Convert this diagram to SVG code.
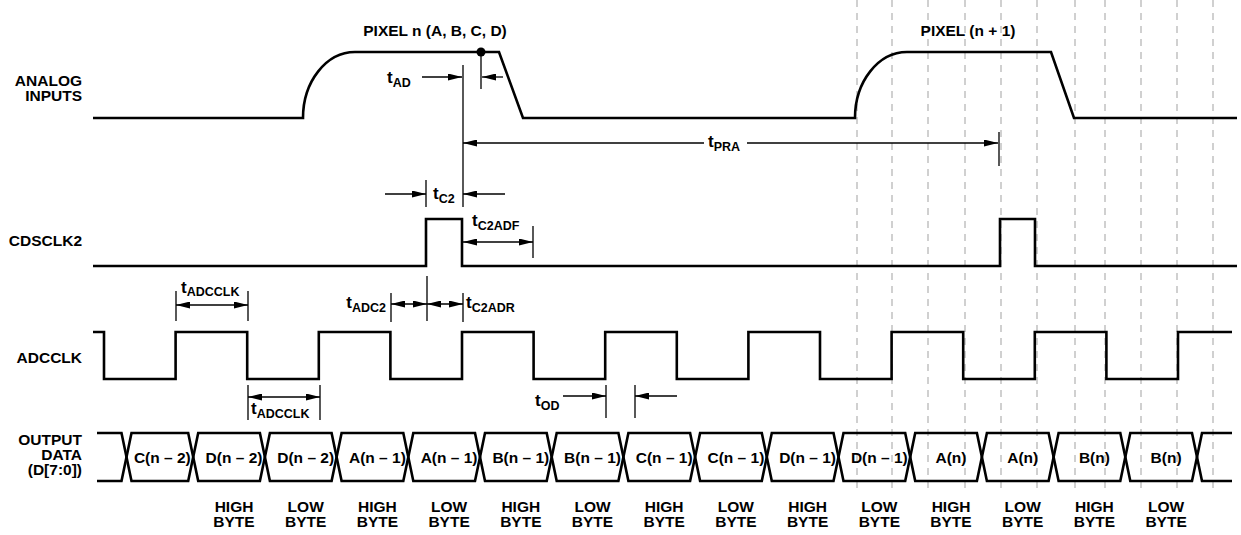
<svg xmlns="http://www.w3.org/2000/svg" width="1241" height="535" viewBox="0 0 1241 535">
<style>
text{font-family:"Liberation Sans",Arial,Helvetica,sans-serif;font-weight:bold;font-size:15.5px;fill:#000}
.t{font-size:17px}
.s{font-size:12.5px}
.e{text-anchor:end}
.m{text-anchor:middle}
.w{fill:none;stroke:#000;stroke-width:2.6;stroke-linejoin:miter}
.a{fill:none;stroke:#000;stroke-width:1.3}
.d{fill:none;stroke:#aaa;stroke-width:1.1;stroke-dasharray:7 6}
.ar{marker-end:url(#ah)}
.ab{marker-start:url(#ah);marker-end:url(#ah)}
.as{marker-start:url(#ah)}
</style>
<defs>
<marker id="ah" viewBox="0 0 14 7" refX="14" refY="3.5" markerWidth="14" markerHeight="7" markerUnits="userSpaceOnUse" orient="auto-start-reverse"><path d="M0,0 L14,3.5 L0,7 z" fill="#000"/></marker>
</defs>
<rect width="1241" height="535" fill="#fff"/>
<g id="grid">
<path class="d" d="M857,0V490M892,0V490M928,0V490M965,0V490M1001,0V490M1037,0V490M1075,0V490M1105,0V490M1141,0V490M1177,0V490M1213,0V490"/>
</g>
<g id="labels">
<text class="e" x="82" y="86">ANALOG</text>
<text class="e" x="82" y="101">INPUTS</text>
<text class="e" x="82" y="246">CDSCLK2</text>
<text class="e" x="82" y="363">ADCCLK</text>
<text class="e" x="82" y="445">OUTPUT</text>
<text class="e" x="82" y="460">DATA</text>
<text class="e" x="82" y="475">(D[7:0])</text>
<text class="m" x="435" y="36">PIXEL n (A, B, C, D)</text>
<text class="m" x="968" y="36">PIXEL (n + 1)</text>
</g>
<g id="analog">
<path class="w" d="M93,118H303A52,66 0 0 1 355,52H499L523,118H855A52,66 0 0 1 907,52H1051L1074,118H1237"/>
<circle cx="481" cy="52" r="4.5" fill="#000"/>
</g>
<g id="cdsclk2">
<path class="w" d="M93,266H426V219H462V266H1000V219H1035V266H1237"/>
</g>
<g id="adcclk">
<path class="w" d="M93,332H104V379H175.6V332H247.2V379H318.8V332H390.4V379H462V332H533.6V379H605.2V332H676.8V379H748.4V332H820V379H891.6V332H963.2V379H1034.8V332H1106.4V379H1178V332H1232"/>
</g>
<g id="bus">
<path class="w" d="M97,433H121.5L131.5,481H188.2L198.2,433H259.9L269.9,481H331.6L341.6,433H403.3L413.3,481H475L485,433H546.7L556.7,481H618.4L628.4,433H690.1L700.1,481H761.8L771.8,433H833.5L843.5,481H905.2L915.2,433H976.9L986.9,481H1048.6L1058.6,433H1120.3L1130.3,481H1192L1202,433H1232"/>
<path class="w" d="M97,481H121.5L131.5,433H188.2L198.2,481H259.9L269.9,433H331.6L341.6,481H403.3L413.3,433H475L485,481H546.7L556.7,433H618.4L628.4,481H690.1L700.1,433H761.8L771.8,481H833.5L843.5,433H905.2L915.2,481H976.9L986.9,433H1048.6L1058.6,481H1120.3L1130.3,433H1192L1202,481H1232"/>
<text class="m" x="162.3" y="463">C(n – 2)</text>
<text class="m" x="234" y="463">D(n – 2)</text>
<text class="m" x="305.7" y="463">D(n – 2)</text>
<text class="m" x="377.4" y="463">A(n – 1)</text>
<text class="m" x="449.1" y="463">A(n – 1)</text>
<text class="m" x="520.8" y="463">B(n – 1)</text>
<text class="m" x="592.5" y="463">B(n – 1)</text>
<text class="m" x="664.2" y="463">C(n – 1)</text>
<text class="m" x="735.9" y="463">C(n – 1)</text>
<text class="m" x="807.6" y="463">D(n – 1)</text>
<text class="m" x="879.3" y="463">D(n – 1)</text>
<text class="m" x="951" y="463">A(n)</text>
<text class="m" x="1022.7" y="463">A(n)</text>
<text class="m" x="1094.4" y="463">B(n)</text>
<text class="m" x="1166.1" y="463">B(n)</text>
</g>
<g id="bytes">
<text class="m" x="234" y="512">HIGH</text><text class="m" x="234" y="527">BYTE</text>
<text class="m" x="305.7" y="512">LOW</text><text class="m" x="305.7" y="527">BYTE</text>
<text class="m" x="377.4" y="512">HIGH</text><text class="m" x="377.4" y="527">BYTE</text>
<text class="m" x="449.1" y="512">LOW</text><text class="m" x="449.1" y="527">BYTE</text>
<text class="m" x="520.8" y="512">HIGH</text><text class="m" x="520.8" y="527">BYTE</text>
<text class="m" x="592.5" y="512">LOW</text><text class="m" x="592.5" y="527">BYTE</text>
<text class="m" x="664.2" y="512">HIGH</text><text class="m" x="664.2" y="527">BYTE</text>
<text class="m" x="735.9" y="512">LOW</text><text class="m" x="735.9" y="527">BYTE</text>
<text class="m" x="807.6" y="512">HIGH</text><text class="m" x="807.6" y="527">BYTE</text>
<text class="m" x="879.3" y="512">LOW</text><text class="m" x="879.3" y="527">BYTE</text>
<text class="m" x="951" y="512">HIGH</text><text class="m" x="951" y="527">BYTE</text>
<text class="m" x="1022.7" y="512">LOW</text><text class="m" x="1022.7" y="527">BYTE</text>
<text class="m" x="1094.4" y="512">HIGH</text><text class="m" x="1094.4" y="527">BYTE</text>
<text class="m" x="1166.1" y="512">LOW</text><text class="m" x="1166.1" y="527">BYTE</text>
</g>
<g id="connectors">
<path class="a" d="M463,65V207M481,52V89M999,132V166M426,180V207M533,226V258M176,291V321M248,291V321M391,293V322M427,276V321M463,293V322M248,385V420M320,385V420M606,385V418M635,385V418"/>
<path class="a ar" d="M422,77H462"/>
<path class="a ar" d="M503,77H482"/>
<path class="a as" d="M463,143H704"/>
<path class="a ar" d="M747,143H998"/>
<path class="a ar" d="M385,194H426"/>
<path class="a ar" d="M505,194H463"/>
<path class="a ab" d="M463,242H533"/>
<path class="a ab" d="M176,305H248"/>
<path class="a ab" d="M391,304H427"/>
<path class="a ab" d="M427,304H463"/>
<path class="a ab" d="M248,397H320"/>
<path class="a ar" d="M563,396H606"/>
<path class="a ar" d="M677,396H635"/>
</g>
<g id="timing-labels">
<text class="t" x="387" y="83">t<tspan class="s" dy="4">AD</tspan></text>
<text class="t" x="708" y="147">t<tspan class="s" dy="4">PRA</tspan></text>
<text class="t" x="433" y="199">t<tspan class="s" dy="4">C2</tspan></text>
<text class="t" x="472" y="226">t<tspan class="s" dy="4">C2ADF</tspan></text>
<text class="t" x="181" y="293">t<tspan class="s" dy="3">ADCCLK</tspan></text>
<text class="t e" x="386" y="308">t<tspan class="s" dy="4">ADC2</tspan></text>
<text class="t" x="466" y="308">t<tspan class="s" dy="4">C2ADR</tspan></text>
<text class="t" x="251" y="414">t<tspan class="s" dy="4">ADCCLK</tspan></text>
<text class="t" x="535" y="406">t<tspan class="s" dy="4">OD</tspan></text>
</g>
</svg>
